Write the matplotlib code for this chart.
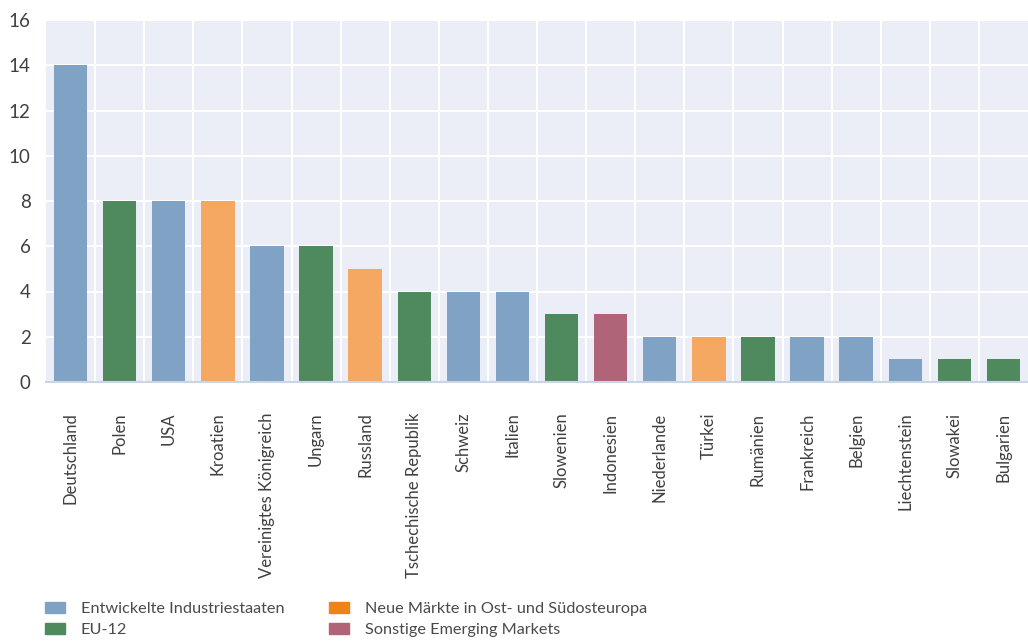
import matplotlib
matplotlib.use("Agg")
from matplotlib import pyplot as plt
from matplotlib.patches import Patch

# Data
laender = ["Deutschland", "Polen", "USA", "Kroatien", "Vereinigtes Königreich",
           "Ungarn", "Russland", "Tschechische Republik", "Schweiz", "Italien",
           "Slowenien", "Indonesien", "Niederlande", "Türkei", "Rumänien",
           "Frankreich", "Belgien", "Liechtenstein", "Slowakei", "Bulgarien"]
werte = [14, 8, 8, 8, 6, 6, 5, 4, 4, 4, 3, 3, 2, 2, 2, 2, 2, 1, 1, 1]
gruppe = ["ind", "eu", "ind", "oso", "ind", "eu", "oso", "eu", "ind", "ind",
          "eu", "sem", "ind", "oso", "eu", "ind", "ind", "ind", "eu", "eu"]

gruppen = ["ind", "eu", "oso", "sem"]
gruppen_namen = ["Entwickelte Industriestaaten", "EU-12",
                 "Neue Märkte in Ost- und Südosteuropa", "Sonstige Emerging Markets"]
bar_farben = {"ind": "#7fa2c5", "eu": "#4f8a5e", "oso": "#f4a862", "sem": "#b06477"}
legend_farben = {"ind": "#7fa2c5", "eu": "#4f8a5e", "oso": "#ef8219", "sem": "#b06477"}

plt.rcParams['font.family'] = ['Lato', 'DejaVu Sans']
W, H = 1028, 641

fig = plt.figure(figsize=(W / 100, H / 100), dpi=100)
ax = fig.add_axes([46 / W, 1 - 382 / H, 1 - 46 / W, (382 - 20) / H])
ax.set_facecolor("#ebeef6")

x = list(range(len(laender)))
ax.bar(x, werte, width=0.68, color=[bar_farben[g] for g in gruppe], zorder=3)

ax.set_xlim(-0.5, len(laender) - 0.5)
ax.set_ylim(0, 16)
ax.set_yticks(range(0, 17, 2))
ax.set_xticks(x)
ax.set_xticklabels(laender, rotation=90, fontsize=12, color="#404040")
ax.tick_params(axis="y", labelsize=13.5, labelcolor="#404040", length=0, pad=11)
ax.tick_params(axis="x", length=0, pad=22)

# grid: horizontal at ticks, vertical between categories
for y in range(2, 17, 2):
    ax.axhline(y, color="white", lw=1.5, zorder=1)
for i in range(1, len(laender)):
    ax.axvline(i - 0.5, color="white", lw=1.5, zorder=1)

for s in ["top", "right", "left"]:
    ax.spines[s].set_visible(False)
ax.spines["bottom"].set_color("#c9d6e6")
ax.spines["bottom"].set_linewidth(1.5)
ax.spines["bottom"].set_zorder(4)

# legend in two columns
spalten = [(45, gruppen[:2], gruppen_namen[:2]), (329, gruppen[2:], gruppen_namen[2:])]
for xpos, gs, namen in spalten:
    handles = [Patch(color=legend_farben[g]) for g in gs]
    leg = fig.legend(handles, namen, loc="upper left",
                     bbox_to_anchor=(xpos / W, 1 - 602 / H), frameon=False,
                     fontsize=11.7, handlelength=1.23, handleheight=0.65,
                     labelspacing=0.42, handletextpad=0.98, borderpad=0,
                     borderaxespad=0)
    for t in leg.get_texts():
        t.set_color("#4a4a4a")

fig.savefig("out.png", dpi=100)
